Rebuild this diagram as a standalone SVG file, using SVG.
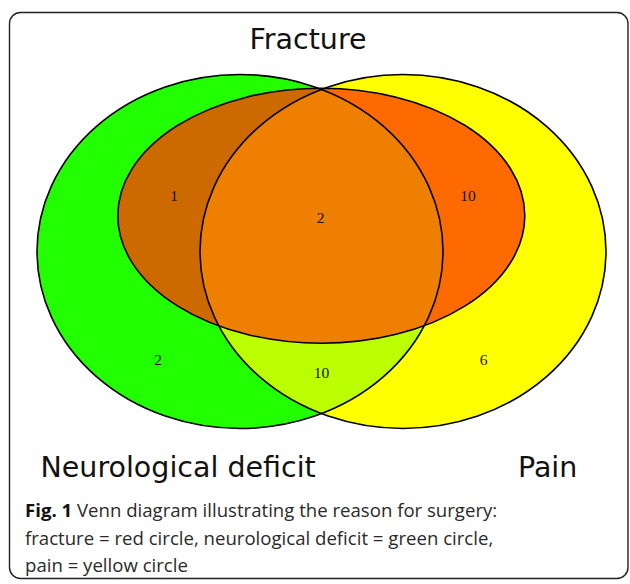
<svg xmlns="http://www.w3.org/2000/svg" width="630" height="584" viewBox="0 0 630 584">
<style>
.outline{fill:none;stroke:#000;stroke-width:1.6}
.num{font-family:"Liberation Serif","Times New Roman",serif;font-size:15.5px;fill:#111;text-anchor:middle}
.lab{font-family:"DejaVu Sans",sans-serif;font-size:28.5px;fill:#111}
.cap{font-family:"Open Sans","Noto Sans",sans-serif;font-size:18.6px;fill:#2a2a2a}
</style>
<defs>
<ellipse id="eG" cx="240" cy="251.5" rx="203" ry="177"/>
<ellipse id="eY" cx="403" cy="251.5" rx="203" ry="177"/>
<ellipse id="eR" cx="321.3" cy="215.7" rx="203.5" ry="127.5"/>
<clipPath id="cG"><use href="#eG"/></clipPath>
<clipPath id="cY"><use href="#eY"/></clipPath>
</defs>
<rect x="9.5" y="12.5" width="618.5" height="566" rx="11" fill="#fff" stroke="#222" stroke-width="1.4"/>
<g id="fills">
<use href="#eG" fill="#22FF00"/>
<use href="#eY" fill="#FFFF00"/>
<use href="#eY" fill="#BBFF00" clip-path="url(#cG)"/>
<use href="#eR" fill="#CC6A00" clip-path="url(#cG)"/>
<use href="#eR" fill="#FF6A00" clip-path="url(#cY)"/>
<g clip-path="url(#cG)"><use href="#eR" fill="#EE7F00" clip-path="url(#cY)"/></g>
</g>
<g id="neurological-deficit"><use href="#eG" class="outline"/>
<text class="lab" x="40.5" y="477">Neurological deficit</text></g>
<g id="pain"><use href="#eY" class="outline"/>
<text class="lab" x="518" y="477">Pain</text></g>
<g id="fracture"><use href="#eR" class="outline"/>
<text class="lab" x="249.5" y="48.5">Fracture</text></g>
<g id="counts">
<text class="num" x="174" y="201">1</text>
<text class="num" x="468" y="201">10</text>
<text class="num" x="320.5" y="223">2</text>
<text class="num" x="158" y="365">2</text>
<text class="num" x="483.5" y="364.5">6</text>
<text class="num" x="321.5" y="378">10</text>
</g>
<g id="caption">
<text class="cap" x="25" y="517"><tspan font-weight="bold" fill="#111">Fig. 1</tspan> Venn diagram illustrating the reason for surgery:</text>
<text class="cap" x="25" y="545">fracture = red circle, neurological deficit = green circle,</text>
<text class="cap" x="25" y="572">pain = yellow circle</text>
</g>
</svg>
